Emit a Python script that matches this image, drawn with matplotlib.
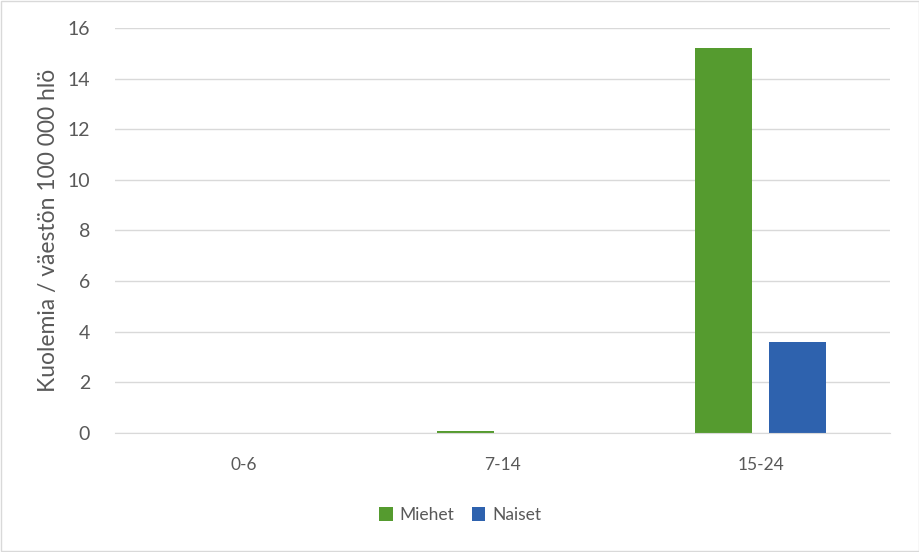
import matplotlib.pyplot as plt
import numpy as np

plt.rcParams['font.family'] = ['Lato', 'DejaVu Sans']

# Kuolemat ikäryhmittäin
groups = ['0-6', '7-14', '15-24']
miehet = [0.0, 0.08, 15.2]
naiset = [0.0, 0.0, 3.6]

green = '#559B2F'
blue = '#2E62AE'
gray = '#595959'

fig = plt.figure(figsize=(9.2, 5.52), dpi=100)
ax = fig.add_axes([0.125, 0.2156, 0.842, 0.7337])

x = np.arange(len(groups))
w = 0.22
ax.bar(x - 0.142, miehet, w, color=green, label='Miehet')
ax.bar(x + 0.142, naiset, w, color=blue, label='Naiset')

ax.set_xlim(-0.5, 2.5)
ax.set_ylim(0, 16)
ax.set_yticks(range(0, 17, 2))
ax.set_xticks(x)
ax.set_xticklabels(groups)
ax.tick_params(axis='both', length=0, colors=gray)
ax.tick_params(axis='y', labelsize=14, pad=18)
ax.tick_params(axis='x', labelsize=12.5, pad=17)
ax.set_ylabel('Kuolemia / väestön 100 000 hlö', color=gray, fontsize=16.5, labelpad=6)

ax.grid(axis='y', color='#D9D9D9', linewidth=1)
ax.set_axisbelow(True)
for s in ['top', 'right', 'left']:
    ax.spines[s].set_visible(False)
ax.spines['bottom'].set_color('#D9D9D9')

leg = fig.legend(loc='center', bbox_to_anchor=(0.5, 0.067), ncol=2, frameon=False,
                 fontsize=12.5, handlelength=0.8, handleheight=0.8, columnspacing=1.0,
                 handletextpad=0.4)
for t in leg.get_texts():
    t.set_color(gray)

# ulkoreunus
fig.patches.append(plt.Rectangle((0.001, 0.001), 0.998, 0.998, transform=fig.transFigure,
                                 fill=False, edgecolor='#D9D9D9', linewidth=1))

fig.savefig('out.png', dpi=100)
